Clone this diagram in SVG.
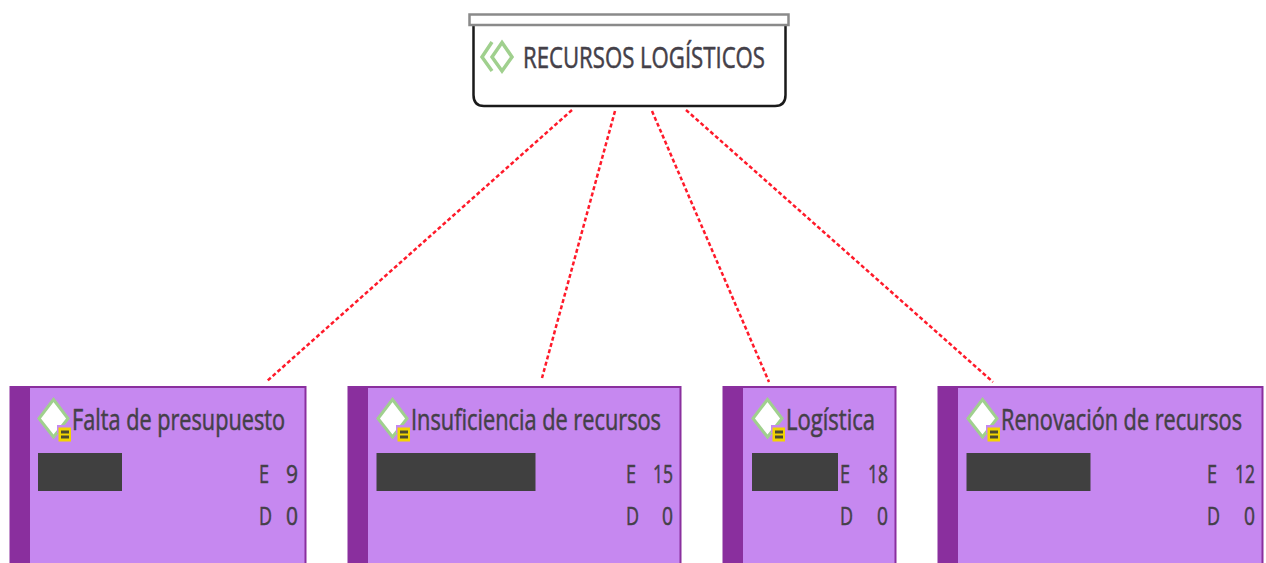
<svg xmlns="http://www.w3.org/2000/svg" width="1266" height="563" viewBox="0 0 1266 563">
<style>
text{font-family:"Open Sans","Noto Sans","Liberation Sans",sans-serif;fill:#444048;stroke:#444048;stroke-width:.55px}
.t{font-size:29.5px}
.s{font-size:26px}
.card{fill:#c688f0;stroke:#8a2f9e;stroke-width:2}
.band{fill:#8a2f9e}
.mask{fill:#404040}
.dia{fill:#fff;stroke:#a0d08e;stroke-width:3}
.badge{fill:#f2d400}
.bl{fill:#4c4a30}
.c{stroke:#ff1a2a;stroke-width:2.500;stroke-dasharray:4 2.500;fill:none}
</style>
<defs>
<g id="ic">
<path class="dia" d="M0.500 1.500L15 20.500L0.500 39L-14 20.500Z"/>
<rect x="4" y="27" width="8" height="8" fill="#c688f0"/>
<rect class="badge" x="5.500" y="29.500" width="12.500" height="14"/>
<rect class="bl" x="8" y="32.500" width="8" height="3"/>
<rect class="bl" x="8" y="37.500" width="8" height="3"/>
</g>
</defs>
<g id="connectors">
<line class="c" x1="572" y1="110" x2="266" y2="382"/>
<line class="c" x1="615" y1="111" x2="542" y2="378"/>
<line class="c" x1="652" y1="111" x2="769" y2="382"/>
<line class="c" x1="686" y1="110" x2="993" y2="382"/>
</g>
<g id="node-root">
<path d="M473.500 20V95Q473.500 106 484 106H775Q785.500 106 785.500 95V20Z" fill="#fff" stroke="#1a1a1a" stroke-width="2.500"/>
<rect x="469.500" y="14.500" width="319" height="10.500" fill="#fff" stroke="#8a8a8a" stroke-width="2.500"/>
<path d="M492 42L482 57L492 71" fill="none" stroke="#a0d08e" stroke-width="3.500"/>
<path d="M502 42.500L512 57L502 71L492 57Z" fill="#fff" stroke="#a0d08e" stroke-width="3.500"/>
<text class="t" x="523" y="68" textLength="242" lengthAdjust="spacingAndGlyphs">RECURSOS LOGÍSTICOS</text>
</g>
<g id="node-1">
<rect class="card" x="10.500" y="387" width="295" height="190"/>
<rect class="band" x="10" y="387" width="20" height="190"/>
<use href="#ic" x="53" y="398"/>
<text class="t" x="72" y="430" textLength="213" lengthAdjust="spacingAndGlyphs">Falta de presupuesto</text>
<rect class="mask" x="38" y="453" width="84" height="38"/>
<text class="s" x="259" y="483" textLength="10" lengthAdjust="spacingAndGlyphs">E</text>
<text class="s" x="298" y="483" text-anchor="end" textLength="12" lengthAdjust="spacingAndGlyphs">9</text>
<text class="s" x="259" y="525" textLength="13" lengthAdjust="spacingAndGlyphs">D</text>
<text class="s" x="298" y="525" text-anchor="end" textLength="12" lengthAdjust="spacingAndGlyphs">0</text>
</g>
<g id="node-2">
<rect class="card" x="348.500" y="387" width="332" height="190"/>
<rect class="band" x="348" y="387" width="20" height="190"/>
<use href="#ic" x="392" y="398"/>
<text class="t" x="411" y="430" textLength="250" lengthAdjust="spacingAndGlyphs">Insuficiencia de recursos</text>
<rect class="mask" x="376.500" y="453" width="159" height="38"/>
<text class="s" x="626" y="483" textLength="10" lengthAdjust="spacingAndGlyphs">E</text>
<text class="s" x="673" y="483" text-anchor="end" textLength="20" lengthAdjust="spacingAndGlyphs">15</text>
<text class="s" x="626" y="525" textLength="13" lengthAdjust="spacingAndGlyphs">D</text>
<text class="s" x="673" y="525" text-anchor="end" textLength="11" lengthAdjust="spacingAndGlyphs">0</text>
</g>
<g id="node-3">
<rect class="card" x="723.500" y="387" width="172" height="190"/>
<rect class="band" x="723" y="387" width="20" height="190"/>
<use href="#ic" x="767" y="398"/>
<text class="t" x="786" y="430" textLength="89" lengthAdjust="spacingAndGlyphs">Logística</text>
<rect class="mask" x="752" y="453" width="86" height="38"/>
<text class="s" x="840" y="483" textLength="10" lengthAdjust="spacingAndGlyphs">E</text>
<text class="s" x="888" y="483" text-anchor="end" textLength="20" lengthAdjust="spacingAndGlyphs">18</text>
<text class="s" x="840" y="525" textLength="13" lengthAdjust="spacingAndGlyphs">D</text>
<text class="s" x="888" y="525" text-anchor="end" textLength="11" lengthAdjust="spacingAndGlyphs">0</text>
</g>
<g id="node-4">
<rect class="card" x="938.500" y="387" width="324" height="190"/>
<rect class="band" x="938" y="387" width="20" height="190"/>
<use href="#ic" x="982" y="398"/>
<text class="t" x="1001" y="430" textLength="241" lengthAdjust="spacingAndGlyphs">Renovación de recursos</text>
<rect class="mask" x="966.500" y="453" width="124" height="38"/>
<text class="s" x="1207" y="483" textLength="10" lengthAdjust="spacingAndGlyphs">E</text>
<text class="s" x="1255" y="483" text-anchor="end" textLength="20" lengthAdjust="spacingAndGlyphs">12</text>
<text class="s" x="1207" y="525" textLength="13" lengthAdjust="spacingAndGlyphs">D</text>
<text class="s" x="1255" y="525" text-anchor="end" textLength="11" lengthAdjust="spacingAndGlyphs">0</text>
</g>
</svg>
